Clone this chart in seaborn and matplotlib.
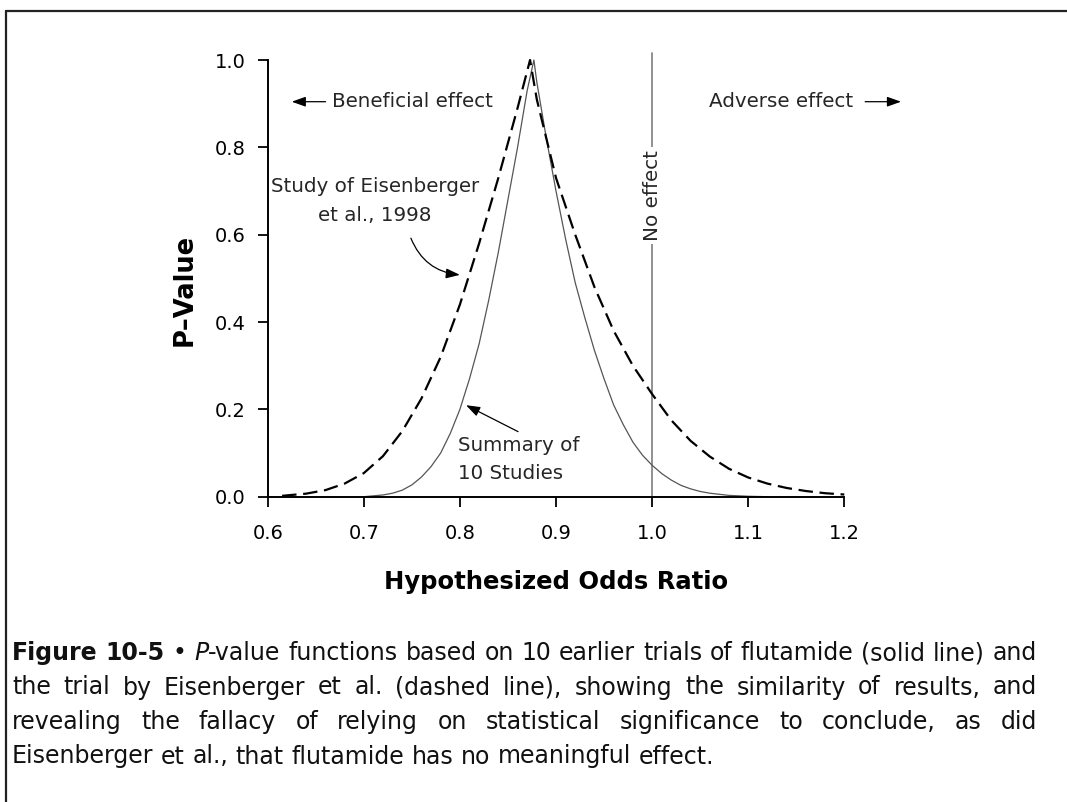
import matplotlib
matplotlib.use("Agg")
import matplotlib.pyplot as plt
from matplotlib.lines import Line2D
from matplotlib.transforms import IdentityTransform
import pandas as pd
import seaborn as sns

# ---------------- data ----------------
dashed_or = [0.615, 0.64, 0.66, 0.68, 0.70, 0.72, 0.74, 0.76, 0.78, 0.80, 0.82, 0.84, 0.86, 0.873,
             0.88, 0.89, 0.90, 0.92, 0.94, 0.96, 0.98, 1.00, 1.02, 1.04, 1.06, 1.08, 1.10, 1.12,
             1.14, 1.16, 1.18, 1.20]
dashed_p = [0.002, 0.007, 0.015, 0.030, 0.054, 0.093, 0.150, 0.225, 0.320, 0.440, 0.580, 0.730, 0.890, 1.000,
            0.910, 0.820, 0.730, 0.600, 0.480, 0.380, 0.300, 0.235, 0.175, 0.128, 0.092, 0.064, 0.044, 0.030,
            0.020, 0.013, 0.008, 0.005]

solid_or = [0.70, 0.72, 0.73, 0.74, 0.75, 0.76, 0.77, 0.78, 0.79, 0.80, 0.81, 0.82, 0.83, 0.84, 0.85,
            0.86, 0.87, 0.877, 0.88, 0.89, 0.90, 0.91, 0.92, 0.93, 0.94, 0.95, 0.96, 0.97, 0.98, 0.99,
            1.00, 1.01, 1.02, 1.03, 1.04, 1.05, 1.06, 1.08, 1.10, 1.12]
solid_p = [0.000, 0.004, 0.008, 0.015, 0.027, 0.045, 0.069, 0.100, 0.145, 0.200, 0.270, 0.350, 0.450,
           0.560, 0.680, 0.800, 0.930, 1.000, 0.950, 0.820, 0.700, 0.590, 0.490, 0.410, 0.335, 0.270,
           0.210, 0.165, 0.125, 0.095, 0.072, 0.053, 0.038, 0.026, 0.018, 0.012, 0.008, 0.003, 0.001, 0.000]

x_ticks = [0.6, 0.7, 0.8, 0.9, 1.0, 1.1, 1.2]
x_tick_labels = ["0.6", "0.7", "0.8", "0.9", "1.0", "1.1", "1.2"]
y_ticks = [0.0, 0.2, 0.4, 0.6, 0.8, 1.0]
y_tick_labels = ["0.0", "0.2", "0.4", "0.6", "0.8", "1.0"]
no_effect_or = 1.0

x_label = "Hypothesized Odds Ratio"
y_label = "P\u2013Value"

caption_lines = [
    [[("Figure", "bold", "normal")], [("10-5", "bold", "normal")], [("\u2022", "normal", "normal")],
     [("P", "normal", "italic"), ("-value", "normal", "normal")]]
    + [[(w, "normal", "normal")] for w in "functions based on 10 earlier trials of flutamide (solid line) and".split()],
    [[(w, "normal", "normal")] for w in
     "the trial by Eisenberger et al. (dashed line), showing the similarity of results, and".split()],
    [[(w, "normal", "normal")] for w in
     "revealing the fallacy of relying on statistical significance to conclude, as did".split()],
    [[(w, "normal", "normal")] for w in
     "Eisenberger et al., that flutamide has no meaningful effect.".split()],
]
caption_justify = [True, True, True, False]

# ---------------- style ----------------
sns.set_theme(style="ticks")
chart_font = "DejaVu Sans"
cap_font = "DejaVu Sans"
plt.rcParams["font.family"] = [chart_font]

W, H = 1067, 802
fig = plt.figure(figsize=(W / 100, H / 100), dpi=100)
fig.patch.set_facecolor("white")
ax = fig.add_axes([267.7 / W, 1 - 496.7 / H, 576.6 / W, 436.7 / H])
ax.set_facecolor("white")

df_d = pd.DataFrame({"or": dashed_or, "p": dashed_p})
df_s = pd.DataFrame({"or": solid_or, "p": solid_p})
sns.lineplot(data=df_s, x="or", y="p", ax=ax, color="#555555", linewidth=0.9, sort=True,
             estimator=None, clip_on=False)
sns.lineplot(data=df_d, x="or", y="p", ax=ax, color="black", linewidth=1.6, sort=True,
             estimator=None, clip_on=False)
ax.lines[-1].set_dashes((6.5, 3.0))

ax.axvline(no_effect_or, ymin=0, ymax=1.017, color="#888888", linewidth=1.3, clip_on=False, zorder=1)

ax.set_xlim(0.6, 1.2)
ax.set_ylim(0.0, 1.0)
ax.set_xticks(x_ticks)
ax.set_xticklabels(x_tick_labels)
ax.set_yticks(y_ticks)
ax.set_yticklabels(y_tick_labels)
for s in ["top", "right"]:
    ax.spines[s].set_visible(False)
for s in ["left", "bottom"]:
    ax.spines[s].set_linewidth(1.4)
    ax.spines[s].set_color("black")
ax.tick_params(axis="both", direction="out", length=7, width=1.3, color="black",
               labelsize=14, labelcolor="black")
ax.tick_params(axis="x", pad=13)
ax.tick_params(axis="y", pad=9)

ax.set_xlabel(x_label, fontsize=17.5, fontweight="bold", color="black")
ax.set_ylabel(y_label, fontsize=18.5, fontweight="bold", color="black")
ax.xaxis.set_label_coords(0.5, -0.168)
ax.yaxis.set_label_coords(-0.122, 0.473)

# ---------------- annotations ----------------
afs = 14.3
arrow_kw = dict(arrowstyle="-|>,head_length=0.7,head_width=0.25", color="black", lw=0.9,
                shrinkA=0, shrinkB=0)
ax.text(0.6666, 0.9045, "Beneficial effect", fontsize=afs, ha="left", va="center")
ax.annotate("", xy=(0.625, 0.9045), xytext=(0.6602, 0.9045), arrowprops=arrow_kw,
            annotation_clip=False)
ax.text(1.0593, 0.9045, "Adverse effect", fontsize=afs, ha="left", va="center")
ax.annotate("", xy=(1.259, 0.9045), xytext=(1.2217, 0.9045), arrowprops=arrow_kw,
            annotation_clip=False)

ax.text(0.7116, 0.710, "Study of Eisenberger", fontsize=afs, ha="center", va="center")
ax.text(0.7116, 0.645, "et al., 1998", fontsize=afs, ha="center", va="center")
ax.annotate("", xy=(0.800, 0.508), xytext=(0.749, 0.592),
            arrowprops=dict(arrow_kw, connectionstyle="arc3,rad=0.3"), annotation_clip=False)

ax.text(0.7984, 0.118, "Summary of", fontsize=afs, ha="left", va="center")
ax.text(0.7984, 0.054, "10 Studies", fontsize=afs, ha="left", va="center")
ax.annotate("", xy=(0.8064, 0.2095), xytext=(0.8605, 0.149), arrowprops=arrow_kw,
            annotation_clip=False)

ax.text(no_effect_or, 0.69, "No effect", fontsize=afs, rotation=90, ha="center", va="center",
        bbox=dict(facecolor="white", edgecolor="none", pad=2.5), zorder=3)

# ---------------- frame ----------------
fig.add_artist(Line2D([6 / W, 1.0], [1 - 11 / H, 1 - 11 / H], transform=fig.transFigure,
                      color="#222222", linewidth=1.6))
fig.add_artist(Line2D([6 / W, 6 / W], [1 - 11 / H, 0.0], transform=fig.transFigure,
                      color="#222222", linewidth=1.6))

# ---------------- caption (justified) ----------------
cfs = 17
renderer = fig.canvas.get_renderer()
x_left, x_right = 12, 1037
baselines = [660, 694.5, 729, 763.5]


def make(seg, x, y):
    s, wt, st = seg
    return fig.text(x, y, s, transform=IdentityTransform(), fontsize=cfs, fontweight=wt,
                    fontstyle=st, family=[cap_font], ha="left",
                    va="baseline", color="#111111")


t1 = make(("a a", "normal", "normal"), 0, 0)
t2 = make(("aa", "normal", "normal"), 0, 0)
space_w = t1.get_window_extent(renderer).width - t2.get_window_extent(renderer).width
t1.remove()
t2.remove()

for line, just, base in zip(caption_lines, caption_justify, baselines):
    y = H - base
    items = []
    widths = []
    for word in line:
        segs = []
        ww = 0
        for seg in word:
            t = make(seg, 0, y)
            w = t.get_window_extent(renderer).width
            segs.append((t, w))
            ww += w
        items.append(segs)
        widths.append(ww)
    if just and len(items) > 1:
        gap = (x_right - x_left - sum(widths)) / (len(items) - 1)
    else:
        gap = space_w
    x = x_left
    for segs, ww in zip(items, widths):
        xx = x
        for t, w in segs:
            t.set_x(xx)
            xx += w
        x += ww + gap

fig.savefig("out.png", dpi=100, facecolor="white")
